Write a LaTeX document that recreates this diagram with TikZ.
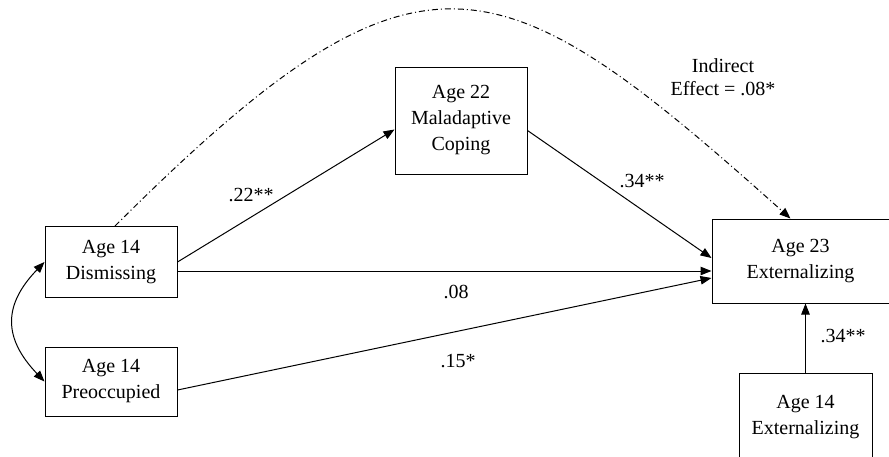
\documentclass[tikz,border=0pt]{standalone}
\usepackage{fontspec}
\setmainfont{Liberation Serif}
\usepackage{tikz}
\usetikzlibrary{arrows.meta, positioning}

\begin{document}
\begin{tikzpicture}[
                x=1pt, y=-1pt,
                font=\fontsize{20}{26}\selectfont,
                box/.style={rectangle, draw, line width=1pt, minimum width=132pt, align=center, inner sep=0pt},
                effect/.style={draw, line width=1pt, -{Triangle[length=11pt, width=8.5pt]}},
                indirect/.style={effect, dash pattern=on 6pt off 3pt on 1pt off 3pt},
                corr/.style={draw, line width=1pt, {Triangle[length=11pt, width=8.5pt]}-{Triangle[length=11pt, width=8.5pt]}}
            ]
                \useasboundingbox (0,0) rectangle (889,456);
                \clip (0,0) rectangle (889,456);

                \node[box, minimum height=71pt] (dis) at (111,262) {Age 14\\Dismissing};
                \node[box, minimum height=69pt] (pre) at (111,381.5) {Age 14\\Preoccupied};
                \node[box, minimum height=107pt] (cop) at (461,120.5) {Age 22\\Maladaptive\\Coping};
                \node[box, minimum width=177pt, minimum height=84pt] (out) at (800.5,261) {Age 23\\Externalizing};
                \node[box, minimum width=133pt, minimum height=88pt] (ext) at (805.5,417) {Age 14\\Externalizing};

                \draw[effect] (dis.east) -- ([yshift=-9pt]cop.west);
                \draw[effect] ([yshift=-10pt]cop.east) -- ([yshift=3pt]out.west);
                \draw[effect] ([yshift=-9pt]dis.east) coordinate (h) -- (h -| out.west);
                \draw[effect] ([yshift=-8.5pt]pre.east) -- ([yshift=-17pt]out.west);
                \draw[effect] (ext.north) -- (ext.north |- out.south);
                \draw[corr] (dis.west) .. controls (3,305) and (3,338) .. (pre.west);
                \draw[indirect] ([xshift=4pt]dis.north) .. controls (420,-78) and (497,-44) .. ([xshift=-10pt]out.north);

                \node (l22) at (251,195) {.22**};
                \node (l34a) at (642,181) {.34**};
                \node (l08) at (456,292) {.08};
                \node (l15) at (458,361) {.15*};
                \node (l34b) at (843,336) {.34**};
                \node[align=center] (lind) at (723,77) {Indirect\\[-3pt]Effect = .08*};
            \end{tikzpicture}
\end{document}
